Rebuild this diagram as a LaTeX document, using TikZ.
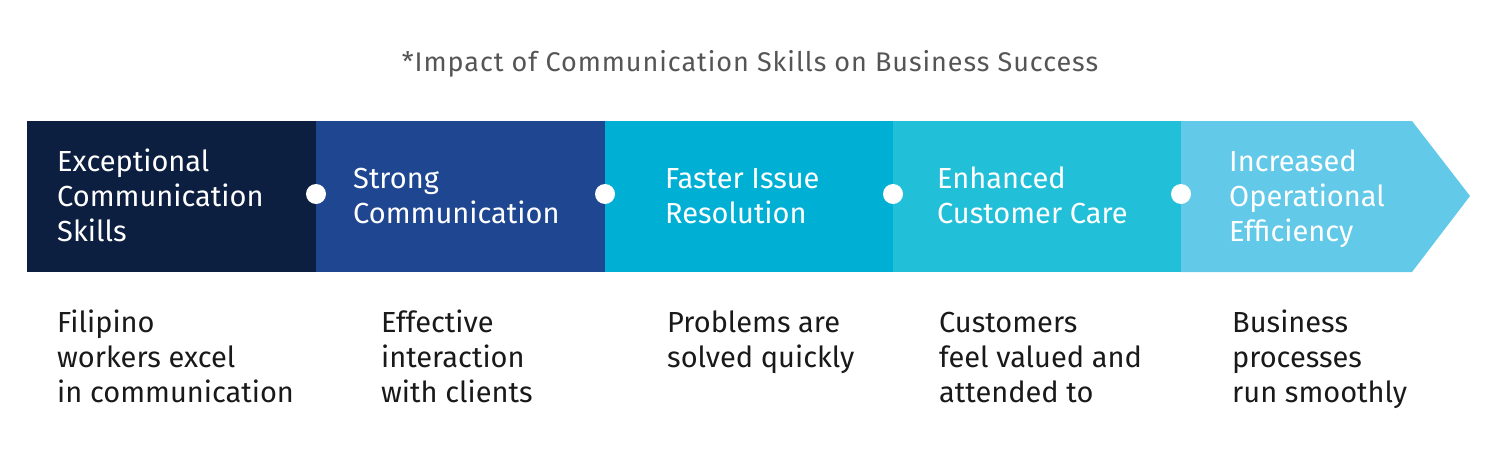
\documentclass[tikz,border=0pt]{standalone}
\usepackage{fontspec}
\setmainfont{Fira Sans}
\usetikzlibrary{shapes}
\definecolor{navy}{HTML}{0C1F40}
\definecolor{royal}{HTML}{1F4690}
\definecolor{teal}{HTML}{00B0D4}
\definecolor{aqua}{HTML}{22BFD9}
\definecolor{sky}{HTML}{62C9E8}
\definecolor{titlegray}{HTML}{555555}
\tikzset{
    steplabel/.style={text=white, anchor=west, align=left, inner sep=0pt,
      font=\fontsize{29}{35}\selectfont},
    notelabel/.style={text=black!90, anchor=west, align=left, inner sep=0pt,
      font=\fontsize{29}{35}\selectfont},
    joint/.style={circle, fill=white, minimum size=20pt, inner sep=0pt},
}
\begin{document}
\begin{tikzpicture}[x=1pt,y=-1pt]
 \useasboundingbox (0,0) rectangle (1497,463);
 \node[text=titlegray, font=\fontsize{27}{32}\selectfont\addfontfeature{LetterSpace=3.5}] (title) at (750,64)
    {*Impact of Communication Skills on Business Success};
 % the band
 \fill[navy] (27,121) rectangle (316,272);
 \fill[royal] (316,121) rectangle (605,272);
 \fill[teal] (605,121) rectangle (893,272);
 \fill[aqua] (893,121) rectangle (1181,272);
 \fill[sky] (1181,121) -- (1412,121) -- (1470,196) -- (1412,272) -- (1181,272) -- cycle;
 \node[joint] (j1) at (316,194) {};
 \node[joint] (j2) at (605,194) {};
 \node[joint] (j3) at (893,194) {};
 \node[joint] (j4) at (1181,194) {};
 % step titles
 \node[steplabel] (s1) at (57,199) {\strut Exceptional\\Communication\\Skills\strut};
 \node[steplabel] (s2) at (353,198.5) {\strut Strong\\Communication\strut};
 \node[steplabel] (s3) at (665,198.5) {\strut Faster Issue\\Resolution\strut};
 \node[steplabel] (s4) at (937,198.5) {\strut Enhanced\\Customer Care\strut};
 \node[steplabel] (s5) at (1229,199) {\strut Increased\\Operational\\Efficiency\strut};
 % notes below
 \node[notelabel] (n1) at (57,360.5) {\strut Filipino\\workers excel\\in communication\strut};
 \node[notelabel] (n2) at (381,360.5) {\strut Effective\\interaction\\with clients\strut};
 \node[notelabel] (n3) at (667,343) {\strut Problems are\\solved quickly\strut};
 \node[notelabel] (n4) at (939,360.5) {\strut Customers\\feel valued and\\attended to\strut};
 \node[notelabel] (n5) at (1232,360.5) {\strut Business\\processes\\run smoothly\strut};
\end{tikzpicture}
\end{document}
